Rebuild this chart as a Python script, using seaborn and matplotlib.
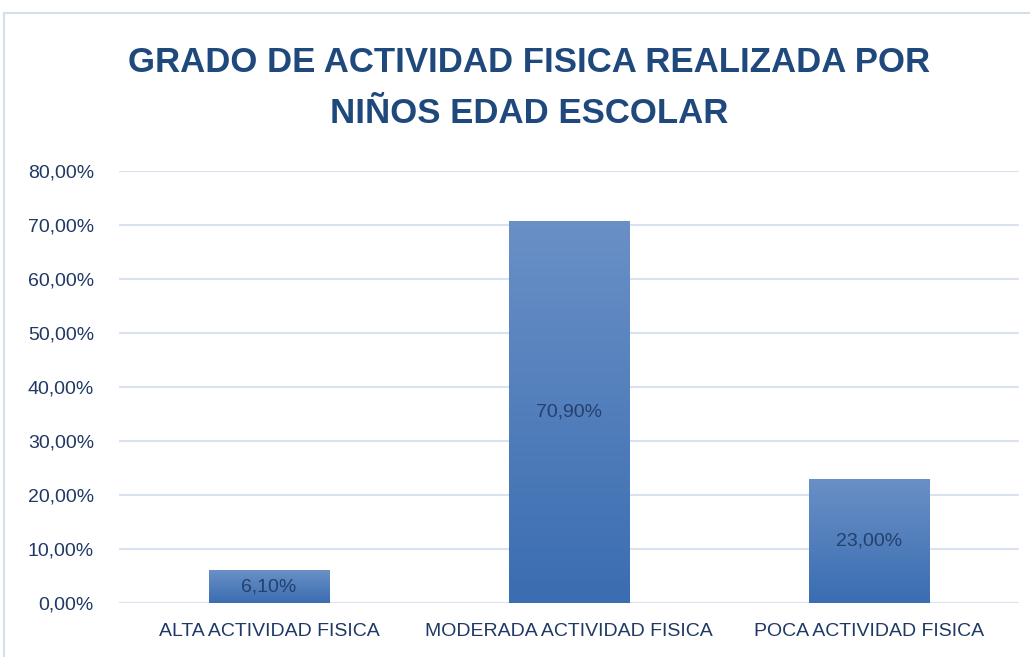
import matplotlib
matplotlib.use("Agg")
import matplotlib.pyplot as plt
import seaborn as sns
import pandas as pd
import numpy as np
from matplotlib.patches import Rectangle
from matplotlib.colors import LinearSegmentedColormap

categorias = ["ALTA ACTIVIDAD FISICA", "MODERADA ACTIVIDAD FISICA", "POCA ACTIVIDAD FISICA"]
porcentajes = [6.10, 70.90, 23.00]
etiquetas = ["6,10%", "70,90%", "23,00%"]
ticks_y = [0, 10, 20, 30, 40, 50, 60, 70, 80]
ticks_y_txt = ["0,00%", "10,00%", "20,00%", "30,00%", "40,00%", "50,00%", "60,00%", "70,00%", "80,00%"]

df = pd.DataFrame({"categoria": categorias, "valor": porcentajes})

sns.set_style("white")
plt.rcParams["font.family"] = ["Liberation Sans", "DejaVu Sans"]

texto = "#1f3864"
fig = plt.figure(figsize=(10.30, 6.57), dpi=100)
ax = fig.add_axes([0.1155, 0.082, 0.874, 0.657])

sns.barplot(data=df, x="categoria", y="valor", color="#4a7ebf", width=0.4, ax=ax)

# degradado vertical en cada barra
cmap = LinearSegmentedColormap.from_list("grad", ["#3a6db1", "#6a90c6"])
grad = np.linspace(0, 1, 256).reshape(-1, 1)
for bar in ax.patches:
    x0, y0 = bar.get_x(), bar.get_y()
    w, h = bar.get_width(), bar.get_height()
    im = ax.imshow(grad, cmap=cmap, aspect="auto", origin="lower",
                   extent=[x0, x0 + w, y0, y0 + h], zorder=bar.get_zorder())
    im.set_clip_path(bar)
    bar.set_facecolor("none")
    bar.set_edgecolor("none")

for i, (v, t) in enumerate(zip(porcentajes, etiquetas)):
    ax.text(i, v / 2, t, ha="center", va="center", fontsize=14, color="#24406e")

ax.set_xlim(-0.5, 2.5)
ax.set_ylim(0, 80)
ax.set_yticks(ticks_y)
ax.set_yticklabels(ticks_y_txt, fontsize=14, color=texto)
ax.tick_params(axis="x", labelsize=14, labelcolor=texto, pad=14, length=0)
ax.tick_params(axis="y", length=0, pad=18)
ax.set_xlabel("")
ax.set_ylabel("")
ax.grid(axis="y", color="#d9e2f1", linewidth=1.5)
ax.set_axisbelow(True)
for s in ax.spines.values():
    s.set_visible(False)

fig.text(0.514, 0.866, "GRADO DE ACTIVIDAD FISICA REALIZADA POR\nNIÑOS EDAD ESCOLAR",
         ha="center", va="center", fontsize=25, fontweight="bold", color="#1f497d",
         linespacing=1.7)

# borde del área del gráfico
fig.patches.append(Rectangle((0.004, -0.05), 1.1, 1.03, transform=fig.transFigure,
                             fill=False, edgecolor="#d6dfec", linewidth=1.5))

fig.savefig("out.png", dpi=100)
